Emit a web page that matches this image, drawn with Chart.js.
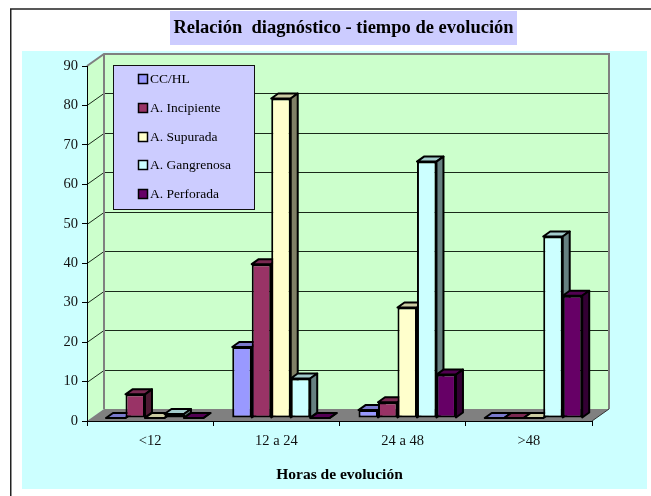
<!DOCTYPE html>
<html>
<head>
<meta charset="utf-8">
<title>Relación diagnóstico - tiempo de evolución</title>
<script src="https://cdn.jsdelivr.net/npm/chart.js@4"></script>
<style>
  html, body { margin: 0; padding: 0; background: #fff; overflow: hidden; }
  #box { width: 651px; height: 496px; position: relative; }
</style>
</head>
<body>
<div id="box"><canvas id="grafico" width="651" height="496"></canvas></div>
<script>
const categorias = ["<12", "12 a 24", "24 a 48", ">48"];
const series = ["CC/HL", "A. Incipiente", "A. Supurada", "A. Gangrenosa", "A. Perforada"];
const ccHl = [0, 18, 2, 0];
const incipiente = [6, 39, 4, 0];
const supurada = [0, 81, 28, 0];
const gangrenosa = [1, 10, 65, 46];
const perforada = [0, 0, 11, 31];
const coresSeries = ["#9999ff", "#993366", "#ffffcc", "#ccffff", "#660066"];
const valoresSeries = [ccHl, incipiente, supurada, gangrenosa, perforada];
const ticksY = [0, 10, 20, 30, 40, 50, 60, 70, 80, 90];

const fonte = "'Liberation Serif', 'Times New Roman', serif";

// profundidade da parede e das barras (pseudo 3D)
const parede = { dx: 17, dy: 12 };
const barraFrente = { dx: 4.6, dy: 3 };
const barraFundo = { dx: 7, dy: 5 };

function escurecer(hex, f) {
    const n = parseInt(hex.slice(1), 16);
    const r = Math.round((n >> 16 & 255) * f);
    const g = Math.round((n >> 8 & 255) * f);
    const b = Math.round((n & 255) * f);
    return "rgb(" + r + "," + g + "," + b + ")";
}

function poligono(ctx, pts, fill, stroke, lw) {
    ctx.beginPath();
    pts.forEach((p, i) => i ? ctx.lineTo(p[0], p[1]) : ctx.moveTo(p[0], p[1]));
    ctx.closePath();
    if (fill) { ctx.fillStyle = fill; ctx.fill(); }
    if (stroke) { ctx.strokeStyle = stroke; ctx.lineWidth = lw; ctx.lineJoin = "round"; ctx.stroke(); }
}

const fundo3d = {
    id: "fundo3d",
    afterLayout(chart) {
        // titulo centrado na sua faixa, nao no grafico
        chart.titleBlock.left = 170;
        chart.titleBlock.right = 517;
    },
    beforeDraw(chart) {
        const ctx = chart.ctx;
        const a = chart.chartArea;
        const y = chart.scales.y;
        const d = parede;
        ctx.save();
        // moldura
        ctx.fillStyle = "#fff";
        ctx.fillRect(0, 0, chart.width, chart.height);
        ctx.strokeStyle = "#222";
        ctx.lineWidth = 1.5;
        ctx.strokeRect(10.75, 9, 660, 500);
        // painel azul e faixa do titulo
        ctx.fillStyle = "#ccffff";
        ctx.fillRect(22, 51, 625, 438);
        ctx.fillStyle = "#ccccff";
        ctx.fillRect(170, 11, 347, 34);

        const y0 = y.getPixelForValue(0);
        const yMax = y.getPixelForValue(90);
        // paredes
        poligono(ctx, [[a.left + d.dx, yMax - d.dy], [a.right + d.dx, yMax - d.dy], [a.right + d.dx, y0 - d.dy], [a.left + d.dx, y0 - d.dy]], "#ccffcc");
        poligono(ctx, [[a.left, yMax], [a.left + d.dx, yMax - d.dy], [a.left + d.dx, y0 - d.dy], [a.left, y0]], "#ccffcc");
        // linhas de grade na parede
        ctx.strokeStyle = "#1a2a1a";
        ctx.lineWidth = 1;
        ticksY.slice(1, -1).forEach(v => {
            const py = Math.round(y.getPixelForValue(v)) + 0.5;
            ctx.beginPath();
            ctx.moveTo(a.left, py);
            ctx.lineTo(a.left + d.dx, py - d.dy);
            ctx.lineTo(a.right + d.dx, py - d.dy);
            ctx.stroke();
        });
        // chao
        poligono(ctx, [[a.left, y0], [a.right, y0], [a.right + d.dx, y0 - d.dy], [a.left + d.dx, y0 - d.dy]], "#808080");
        // bordas cinza das paredes
        ctx.strokeStyle = "#808080";
        ctx.lineWidth = 2;
        ctx.beginPath();
        ctx.moveTo(a.left, yMax);
        ctx.lineTo(a.left + d.dx, yMax - d.dy);
        ctx.lineTo(a.right + d.dx, yMax - d.dy);
        ctx.lineTo(a.right + d.dx, y0 - d.dy);
        ctx.moveTo(a.left + d.dx, yMax - d.dy);
        ctx.lineTo(a.left + d.dx, y0 - d.dy);
        ctx.stroke();
        // diagonal do chao
        ctx.strokeStyle = "#333";
        ctx.lineWidth = 1;
        ctx.beginPath();
        ctx.moveTo(a.right, y0);
        ctx.lineTo(a.right + d.dx, y0 - d.dy);
        ctx.stroke();
        // legenda feita a mao: o texto fica mais perto da caixinha do que o plugin permite
        ctx.fillStyle = "#ccccff";
        ctx.fillRect(113.5, 65.5, 141, 144);
        ctx.strokeStyle = "#111";
        ctx.strokeRect(113.5, 65.5, 141, 144);
        const linhas = [79, 108, 137, 165, 194];
        ctx.font = "13.5px " + fonte;
        ctx.textBaseline = "middle";
        series.forEach((nome, i) => {
            ctx.fillStyle = coresSeries[i];
            ctx.fillRect(138.5, linhas[i] - 4.5, 9, 9);
            ctx.strokeStyle = "#000";
            ctx.lineWidth = 1.5;
            ctx.strokeRect(138.5, linhas[i] - 4.5, 9, 9);
            ctx.fillStyle = "#000";
            ctx.fillText(nome, 150, linhas[i] + 0.5);
        });
        ctx.restore();
    },
    beforeDatasetsDraw(chart) {
        // desenha da primeira serie para a ultima, com topo e lateral de cada barra
        const ctx = chart.ctx;
        ctx.save();
        ctx.translate(barraFrente.dx, -barraFrente.dy);
        const dx = barraFundo.dx, dy = barraFundo.dy;
        chart.data.datasets.forEach((ds, i) => {
            const meta = chart.getDatasetMeta(i);
            meta.data.forEach(bar => {
                const w = bar.width / 2;
                const l = bar.x - w, r = bar.x + w;
                poligono(ctx, [[l, bar.y], [l + dx, bar.y - dy], [r + dx, bar.y - dy], [r, bar.y]], escurecer(coresSeries[i], 0.8), "#000", 2);
                poligono(ctx, [[r, bar.y], [r + dx, bar.y - dy], [r + dx, bar.base - dy], [r, bar.base]], escurecer(coresSeries[i], 0.5), "#000", 2);
            });
            meta.controller.draw();
        });
        ctx.restore();
        return false;
    }
};

new Chart(document.getElementById("grafico"), {
    type: "bar",
    data: {
        labels: categorias,
        datasets: series.map((nome, i) => ({
            label: nome,
            data: valoresSeries[i],
            backgroundColor: coresSeries[i],
            borderColor: "#000",
            borderWidth: 2,
            borderSkipped: false,
            categoryPercentage: 0.772,
            barPercentage: 1
        }))
    },
    options: {
        responsive: false,
        animation: false,
        layout: { padding: { left: 22, right: 59, top: 0, bottom: 0 } },
        plugins: {
            tooltip: { enabled: false },
            title: {
                display: true,
                text: "Relación  diagnóstico - tiempo de evolución",
                color: "#000",
                font: { family: fonte, size: 18.5, weight: "bold" },
                padding: { top: 17, bottom: 26.8 }
            },
            legend: { display: false }
        },
        scales: {
            x: {
                grid: { drawOnChartArea: false, drawTicks: true, tickLength: 5, color: "#000" },
                border: { color: "#000", width: 1 },
                ticks: { color: "#111", font: { family: fonte, size: 14.5 }, padding: 6, maxRotation: 0 },
                title: {
                    display: true,
                    text: "Horas de evolución",
                    color: "#000",
                    font: { family: fonte, size: 15.5, weight: "bold" },
                    padding: { top: 10, bottom: 11.7 }
                },
                afterFit(s) { s.height = 75; }
            },
            y: {
                min: 0,
                max: 90,
                grid: { drawOnChartArea: false, drawTicks: true, tickLength: 5, color: "#000" },
                border: { color: "#000", width: 1 },
                ticks: { color: "#111", font: { family: fonte, size: 14.5 }, stepSize: 10, padding: 4 },
                afterFit(s) { s.width = 65; }
            }
        }
    },
    plugins: [fundo3d]
});
</script>
</body>
</html>
